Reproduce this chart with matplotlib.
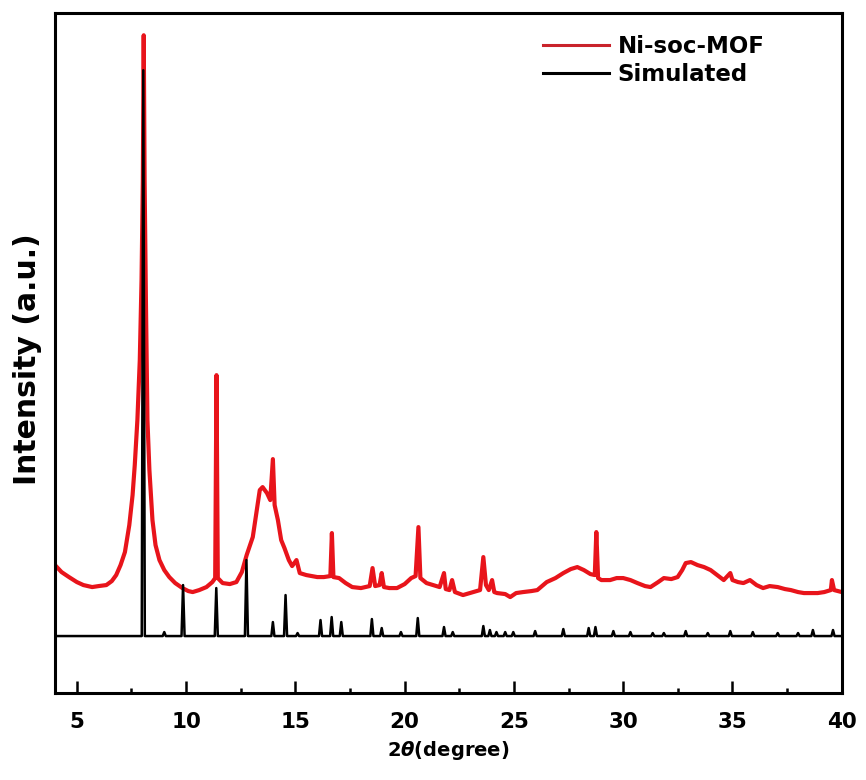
import matplotlib
matplotlib.use("Agg")
import matplotlib.pyplot as plt
from matplotlib.ticker import MultipleLocator

# Measured pattern (Ni-soc-MOF), 2theta in degree, intensity in a.u.
mof_2theta = [
    4.0, 4.3, 4.64, 5.0, 5.3, 5.7, 6.0, 6.35, 6.6, 6.8, 7.0, 7.2, 7.4, 7.55, 7.65,
    7.77, 7.88, 7.96, 8.02, 8.06, 8.10, 8.16, 8.23, 8.32, 8.46, 8.6, 8.78, 9.0,
    9.23, 9.5, 9.83, 10.1, 10.3, 10.6, 10.93, 11.2, 11.33, 11.39, 11.45, 11.67,
    12.0, 12.3, 12.55, 12.77, 13.05, 13.2, 13.37, 13.5, 13.7, 13.85, 13.97, 14.05,
    14.2, 14.35, 14.5, 14.7, 14.85, 15.05, 15.2, 15.5, 16.0, 16.3, 16.6, 16.67,
    16.74, 17.0, 17.3, 17.6, 18.0, 18.4, 18.53, 18.65, 18.85, 18.95, 19.05, 19.3,
    19.65, 20.0, 20.3, 20.5, 20.63, 20.72, 21.0, 21.3, 21.6, 21.8, 21.88, 22.05,
    22.17, 22.3, 22.67, 23.13, 23.45, 23.6, 23.72, 23.85, 24.0, 24.1, 24.23, 24.6,
    24.83, 25.1, 25.42, 25.8, 26.07, 26.5, 26.9, 27.26, 27.6, 27.9, 28.2, 28.5,
    28.7, 28.77, 28.85, 29.0, 29.4, 29.7, 30.0, 30.33, 30.65, 31.0, 31.25, 31.6,
    31.86, 32.2, 32.49, 32.7, 32.86, 33.1, 33.4, 33.7, 34.0, 34.3, 34.6, 34.9,
    35.0, 35.25, 35.5, 35.8, 36.1, 36.4, 36.7, 37.07, 37.4, 37.67, 38.0, 38.27,
    38.6, 38.9, 39.2, 39.5, 39.55, 39.65, 40.0,
]
mof_intensity = [
    128, 121, 116, 111, 108, 106, 107, 108, 112, 118, 128, 141, 168, 198, 228,
    273, 333, 413, 513, 658, 513, 393, 273, 223, 173, 148, 133, 123,
    116, 110, 105, 102, 101, 103, 106, 111, 115, 318, 115, 110,
    109, 111, 121, 138, 156, 178, 203, 206, 200, 193, 234, 188,
    173, 153, 145, 133, 127, 133, 120, 118, 116, 116, 117, 160,
    116, 115, 110, 106, 105, 107, 125, 107, 108, 120, 106, 105,
    105, 109, 115, 117, 166, 115, 110, 108, 106, 120, 104, 103,
    113, 101, 98, 101, 103, 136, 108, 103, 113, 101, 100, 99,
    96, 100, 101, 102, 103, 111, 115, 120, 124, 126, 123, 119,
    118, 161, 115, 113, 113, 115, 115, 113, 110, 107, 106, 111,
    115, 114, 116, 123, 130, 131, 128, 126, 123, 118, 113, 120,
    113, 111, 110, 113, 108, 105, 107, 106, 104, 103, 101, 100,
    100, 100, 101, 103, 113, 103, 101,
]

# Simulated pattern: peak positions and heights above its baseline
sim_2theta = [
    8.04, 9.0, 9.86, 11.38, 12.76, 13.97, 14.55, 15.1, 16.15, 16.66, 17.1,
    18.5, 18.95, 19.83, 20.6, 21.8, 22.2, 23.6, 23.9, 24.2, 24.6, 24.97,
    25.97, 27.26, 28.42, 28.73, 29.55, 30.33, 31.35, 31.86, 32.86, 33.87,
    34.9, 35.93, 37.07, 38.0, 38.68, 39.6,
]
sim_height = [
    566, 4, 51, 48, 76, 14, 41, 3, 16, 19, 14,
    17, 8, 4, 18, 9, 4, 10, 6, 4, 4, 4,
    5, 7, 8, 9, 5, 4, 3, 3, 5, 3,
    5, 4, 3, 3, 6, 6,
]
sim_offset = 57
sim_halfwidth = 0.07

plt.rcParams["font.family"] = ["DejaVu Sans"]
plt.rcParams["font.weight"] = "bold"

# stick pattern -> narrow triangular peaks on a flat baseline
sim_x = [4.0]
sim_y = [sim_offset]
for pos, h in zip(sim_2theta, sim_height):
    sim_x += [pos - sim_halfwidth, pos, pos + sim_halfwidth]
    sim_y += [sim_offset, sim_offset + h, sim_offset]
sim_x.append(40.0)
sim_y.append(sim_offset)

fig = plt.figure(figsize=(8.66, 7.8), dpi=100)
ax = fig.add_axes([0.0635, 0.1115, 0.9085, 0.8715])

ax.plot(mof_2theta, mof_intensity, color="#e8141b", lw=3.0, label="Ni-soc-MOF")
ax.plot(sim_x, sim_y, color="black", lw=1.8, label="Simulated")

ax.set_xlim(4, 40)
ax.set_ylim(0, 680)
ax.xaxis.set_major_locator(MultipleLocator(5))
ax.xaxis.set_minor_locator(MultipleLocator(2.5))
ax.set_yticks([])
ax.tick_params(axis="x", which="major", direction="in", length=8.5, width=1.8,
               labelsize=15.5, pad=14)
ax.tick_params(axis="x", which="minor", direction="in", length=3.5, width=1.8)
for s in ax.spines.values():
    s.set_linewidth(2.2)

ax.set_xlabel(r"2$\theta$(degree)", fontsize=14, fontweight="bold", labelpad=5)
ax.set_ylabel("Intensity (a.u.)", fontsize=21.5, fontweight="bold")
ax.yaxis.set_label_coords(-0.016, 0.491)

leg = ax.legend(loc="upper left", bbox_to_anchor=(0.594, 0.998), frameon=False,
                fontsize=16.5, handlelength=2.9, handletextpad=0.35, labelspacing=0.22)
for line in leg.get_lines():
    line.set_linewidth(2.2)
leg.get_lines()[0].set_color("#c9232b")

fig.savefig("out.png", dpi=100)
